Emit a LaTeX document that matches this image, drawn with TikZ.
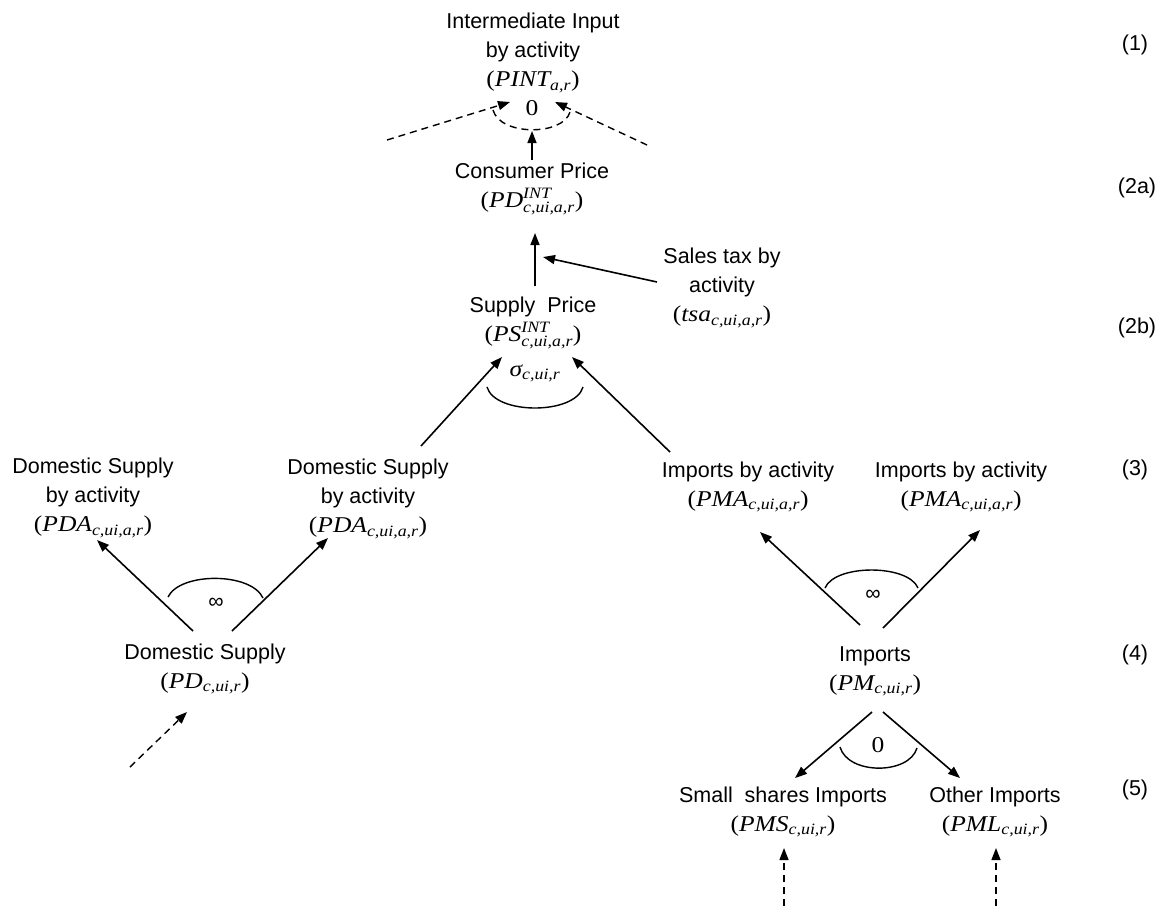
\RequirePackage{fix-cm}
\documentclass[tikz,border=0pt]{standalone}
\usepackage{amsmath}
\usepackage{fontspec}
\setmainfont{Liberation Sans}
\newfontfamily\srf{Liberation Serif}[FakeStretch=1.13,Scale=1.05]
\newcommand\mi[1]{\text{\srf\itshape #1}}
\newcommand\mr[1]{\text{\srf #1}}
\newcommand\lp{\mr{(}}
\newcommand\rp{\mr{)}}
\usetikzlibrary{arrows.meta,calc}
\begin{document}
\begin{tikzpicture}[x=1pt,y=-1pt,
  txt/.style={align=center,inner sep=0pt,font=\fontsize{21.5}{29}\selectfont},
  arr/.style={line width=1.6pt,-{Triangle[length=12pt,width=9pt]}},
  darr/.style={line width=1.4pt,dash pattern=on 7pt off 5pt,-{Triangle[length=12pt,width=9pt]}},
  elast/.style={line width=1.4pt},
  lvl/.style={inner sep=0pt,font=\fontsize{21.5}{26}\selectfont}]
\useasboundingbox (0,0) rectangle (1161,906);

% nodes
\node[txt] (int) at (533,53) {Intermediate Input\\by activity\\$\lp\mi{PINT}_{\mi{a,r}}\rp$};
\node[txt] (cp) at (532,189) {Consumer Price\\$\lp\mi{PD}^{\mi{INT}}_{\mi{c,ui,a,r}}\rp$};
\node[txt] (tax) at (722,288) {Sales tax by\\activity\\$\lp\mi{tsa}_{\mi{c,ui,a,r}}\rp$};
\node[txt] (sp) at (533,323) {Supply\ \ Price\\$\lp\mi{PS}^{\mi{INT}}_{\mi{c,ui,a,r}}\rp$};
\node[txt] (dsl) at (93,498) {Domestic Supply\\by activity\\$\lp\mi{PDA}_{\mi{c,ui,a,r}}\rp$};
\node[txt] (dsm) at (368,499) {Domestic Supply\\by activity\\$\lp\mi{PDA}_{\mi{c,ui,a,r}}\rp$};
\node[txt] (pma1) at (748,487) {Imports by activity\\$\lp\mi{PMA}_{\mi{c,ui,a,r}}\rp$};
\node[txt] (pma2) at (961,487) {Imports by activity\\$\lp\mi{PMA}_{\mi{c,ui,a,r}}\rp$};
\node[txt] (dsb) at (205,669) {Domestic Supply\\$\lp\mi{PD}_{\mi{c,ui,r}}\rp$};
\node[txt] (imp) at (875,671) {Imports\\$\lp\mi{PM}_{\mi{c,ui,r}}\rp$};
\node[txt] (sm) at (783,812) {Small\ \ shares Imports\\$\lp\mi{PMS}_{\mi{c,ui,r}}\rp$};
\node[txt] (oi) at (995,812) {Other Imports\\$\lp\mi{PML}_{\mi{c,ui,r}}\rp$};

% elasticity labels
\node[txt] (e0top) at (532,108) {\srf 0};
\node[txt] (esig) at (535,373) {$\mi{σ}_{\mi{c,ui,r}}$};
\node[txt] (einfl) at (216,603) {∞};
\node[txt] (einfr) at (873,595) {∞};
\node[txt] (e0bot) at (878,745) {\srf 0};

% level labels
\node[lvl] (l1) at (1135,45) {(1)};
\node[lvl] (l2a) at (1137,188) {(2a)};
\node[lvl] (l2b) at (1137,328) {(2b)};
\node[lvl] (l3) at (1135,470) {(3)};
\node[lvl] (l4) at (1135,655) {(4)};
\node[lvl] (l5) at (1135,790) {(5)};

% free ends
\coordinate (dl1) at (387,140);
\coordinate (dl2) at (647,145);
\coordinate (dl3) at (130,767);
\coordinate (dl4) at (784,906);
\coordinate (dl5) at (996,906);

% connectors
\draw[arr] ($(cp)+(0,-29)$) -- ($(int)+(-1,78)$);
\draw[arr] ($(sp)+(2,-37)$) -- ($(cp)+(3,44)$);
\draw[arr] ($(tax)+(-65,-6)$) -- ($(cp)+(11,68)$);
\draw[arr] ($(dsm)+(53,-53)$) -- ($(sp)+(-31,34)$);
\draw[arr] ($(pma1)+(-78,-35)$) -- ($(sp)+(39,34)$);
\draw[arr] ($(dsb)+(-12,-38)$) -- ($(dsl)+(4,42)$);
\draw[arr] ($(dsb)+(27,-38)$) -- ($(dsm)+(-40,39)$);
\draw[arr] ($(imp)+(-15,-46)$) -- ($(pma1)+(12,45)$);
\draw[arr] ($(imp)+(8,-43)$) -- ($(pma2)+(19,43)$);
\draw[arr] ($(imp)+(-3,41)$) -- ($(sm)+(12,-34)$);
\draw[arr] ($(imp)+(8,41)$) -- ($(oi)+(-35,-34)$);

\draw[darr] (dl1) -- ($(int)+(-23,49)$);
\draw[darr] (dl2) -- ($(int)+(22,49)$);
\draw[darr] (dl3) -- ($(dsb)+(-18,43)$);
\draw[darr] (dl4) -- ($(sm)+(1,36)$);
\draw[darr] (dl5) -- ($(oi)+(1,36)$);

% elasticity arcs
\draw[elast,dash pattern=on 7pt off 5pt] (493,110) .. controls (500,136) and (563,136) .. (570,112);
\draw[elast] (487,387) .. controls (495,415) and (575,415) .. (583,387);
\draw[elast] (168,597) .. controls (180,572) and (251,572) .. (263,598);
\draw[elast] (825,588) .. controls (835,564) and (908,564) .. (918,588);
\draw[elast] (840,747) .. controls (848,775) and (909,775) .. (917,748);
\end{tikzpicture}
\end{document}
